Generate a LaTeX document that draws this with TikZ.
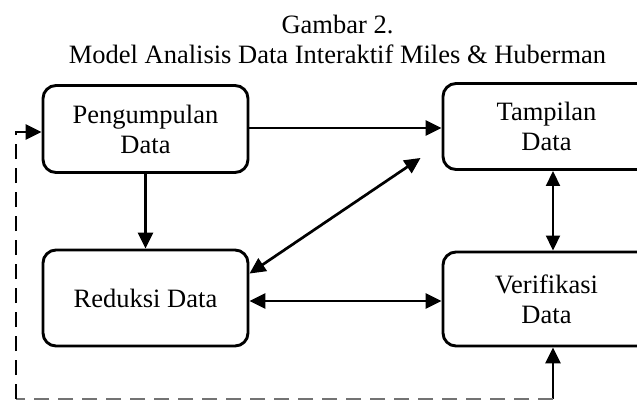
\documentclass[tikz,border=0pt]{standalone}
\usepackage{fontspec}
\setmainfont{Liberation Serif}
\usetikzlibrary{arrows.meta,calc}

\tikzset{
  stage/.style={draw=black, line width=2.9pt, rounded corners=13pt,
    align=center, inner sep=0pt, font=\fontsize{26.5}{30}\selectfont},
  tip/.style={Triangle[length=16pt,width=15pt]},
  flow/.style={line width=2.7pt, -{Triangle[length=16pt,width=15pt]}},
  flowboth/.style={line width=2.7pt, {Triangle[length=16pt,width=15pt]}-{Triangle[length=16pt,width=15pt]}},
  thinboth/.style={line width=1.9pt, {Triangle[length=15pt,width=14pt]}-{Triangle[length=15pt,width=14pt]}},
  loopdash/.style={line width=2.8pt, dash pattern=on 15pt off 9pt},
  headline/.style={align=center, font=\fontsize{26.5}{30}\selectfont}
}

\begin{document}
\begin{tikzpicture}[x=1pt, y=-1pt]
  \useasboundingbox (0,0) rectangle (637,400);

  % caption
  \node[headline] (caption) at (337.5,39) {Gambar 2.\\Model Analisis Data Interaktif Miles \& Huberman};

  % the four stages
  \node[stage, minimum width=205pt, minimum height=87pt] (kumpul) at (145.5,129) {Pengumpulan\\Data};
  \node[stage, minimum width=207pt, minimum height=86pt] (tampil) at (546.5,126.5) {Tampilan\\Data};
  \node[stage, minimum width=205pt, minimum height=96pt] (reduksi) at (145.5,298) {Reduksi Data};
  \node[stage, minimum width=207pt, minimum height=94pt] (verif) at (546.5,299) {Verifikasi\\Data};

  % arrows between stages
  \draw[flow] (kumpul.east |- 0,128) -- (tampil.west |- 0,128);
  \draw[flow] (kumpul.south) -- (reduksi.north);
  \draw[flowboth] ([yshift=-25pt]reduksi.north east) -- ([xshift=-21pt,yshift=13pt]tampil.south west);
  \draw[flowboth] (reduksi.east |- 0,301) -- (verif.west |- 0,301);
  \draw[thinboth] (tampil.south -| 553,0) -- (verif.north -| 553,0);

  % feedback loop back to data collection
  \coordinate (loopR) at (553,399);
  \coordinate (loopL) at (16,399);
  \coordinate (loopT) at (16,132);
  \draw[flow] (loopR) -- (loopR |- verif.south);
  \draw[loopdash, draw=black!55] (loopR) -- (loopL);
  \draw[loopdash] (loopL) -- (loopT) -- ([xshift=-15pt]kumpul.west |- loopT);
  \draw[flow] ([xshift=-16pt]kumpul.west |- loopT) -- (kumpul.west |- loopT);
\end{tikzpicture}
\end{document}
